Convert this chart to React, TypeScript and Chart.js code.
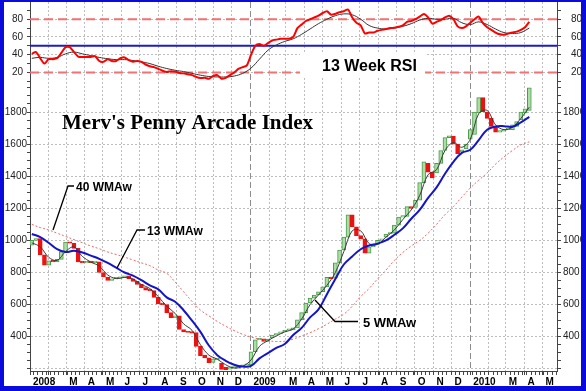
import React, { useEffect, useRef } from "react";
import { Chart, registerables } from "chart.js";

Chart.register(...registerables);

// ---------------- data ----------------
// weekly candles (open / close), first week ending Jan 4 2008
const candleOpen = [
  970, 1000, 1012, 910, 845, 872, 866, 882, 930, 990,
  982, 950, 866, 860, 866, 862, 866, 800, 772, 750,
  760, 763, 768, 780, 760, 745, 726, 706, 690, 687,
  645, 605, 600, 550, 518, 530, 445, 430, 426, 425,
  340, 285, 268, 240, 255, 236, 210, 198, 204, 205,
  215, 222, 224, 306, 380, 386, 370, 392, 410, 420,
  430, 440, 442, 455, 505, 550, 610, 640, 660, 680,
  710, 770, 765, 860, 940, 1020, 1160, 1085, 1030, 1010,
  920, 960, 975, 1000, 1020, 1040, 1045, 1095, 1145, 1150,
  1210, 1205, 1250, 1360, 1480, 1425, 1420, 1480, 1560, 1640,
  1650, 1600, 1550, 1570, 1630, 1660, 1795, 1890, 1800, 1760,
  1710, 1675, 1680, 1690, 1690, 1710, 1750, 1795, 1810,
];
const candleClose = [
  1000, 1012, 910, 845, 872, 866, 882, 930, 990, 982,
  950, 866, 860, 866, 862, 866, 800, 772, 750, 760,
  763, 768, 780, 760, 745, 726, 706, 690, 687, 645,
  605, 600, 550, 518, 530, 445, 430, 426, 422, 340,
  282, 268, 238, 262, 265, 196, 195, 204, 210, 215,
  222, 225, 306, 380, 386, 370, 385, 410, 420, 430,
  440, 442, 455, 505, 550, 610, 640, 660, 680, 710,
  770, 762, 860, 940, 1020, 1160, 1085, 1030, 1010, 920,
  960, 970, 1000, 1010, 1040, 1045, 1095, 1145, 1152, 1210,
  1200, 1250, 1360, 1490, 1425, 1390, 1480, 1560, 1640, 1652,
  1600, 1540, 1565, 1600, 1690, 1800, 1890, 1800, 1760, 1710,
  1675, 1682, 1690, 1700, 1720, 1740, 1800, 1820, 1950,
];
// weekly 13 week RSI
const rsi13 = [
  41, 43, 36, 30, 35, 35, 36, 42, 48.5, 48.5,
  43, 38, 37.5, 37.5, 37.5, 38.5, 33, 32, 35, 33,
  33, 36, 37, 34, 32, 33, 32, 29, 27, 26,
  24, 22, 20.5, 21.5, 21, 19.5, 19, 18, 17, 15,
  13.8, 14, 13, 16, 17, 13, 14, 17, 20, 24,
  26, 28, 40, 50, 52, 50, 53, 56, 57, 58,
  58, 58, 60, 70, 74, 78, 80, 82, 84, 87,
  89, 85, 86, 88, 89, 91, 82, 76, 73, 64,
  65, 65, 67, 68, 69, 70, 70.5, 71.5, 73, 77,
  78, 80, 83, 86, 82, 75, 77, 79, 82, 84,
  80, 72, 70, 72, 76, 80, 83, 75.5, 71, 68,
  65, 63, 62.5, 64, 65, 66, 68, 71, 77,
];
// values every second week (week 0, 2, 4, ...)
const rsiSignal = [
  36, 37, 36, 37, 41, 43, 41, 39, 37, 35.5,
  34.5, 34.5, 33.5, 32, 30, 27, 24.5, 22.5, 21, 19,
  17, 15.5, 15, 15, 16, 19, 25, 35, 45, 51,
  55, 58, 63, 69, 75, 80, 84, 86, 85, 80,
  73, 70, 69, 70, 72, 75, 79, 81, 80, 80,
  81, 76, 74, 77, 74, 69, 65, 64, 65, 70,
];
const wma5 = [
  985, 960, 895, 875, 930, 960, 900, 865, 840, 785,
  762, 770, 760, 725, 700, 650, 590, 545, 480, 440,
  350, 285, 260, 225, 205, 215, 255, 340, 375, 405,
  430, 448, 510, 600, 660, 720, 800, 930, 1060, 1060,
  980, 975, 1020, 1065, 1130, 1190, 1280, 1410, 1440, 1560,
  1610, 1580, 1630, 1790, 1810, 1720, 1690, 1705, 1760, 1830,
];
const wma13 = [
  1040, 1020, 985, 945, 928, 935, 925, 905, 885, 860,
  830, 800, 780, 752, 720, 695, 645, 618, 565, 500,
  430, 345, 285, 250, 225, 214, 218, 265, 298, 330,
  355, 410, 455, 520, 570, 665, 760, 850, 900, 945,
  968, 980, 1000, 1035, 1075, 1135, 1190, 1265, 1330, 1415,
  1490, 1545, 1565, 1625, 1690, 1710, 1712, 1708, 1735, 1770,
];
const wma40 = [
  1100, 1080, 1065, 1045, 1025, 1005, 985, 965, 948, 928,
  912, 896, 878, 860, 843, 815, 795, 740, 680, 620,
  566, 530, 495, 465, 438, 415, 398, 385, 375, 370,
  372, 385, 405, 425, 450, 478, 510, 540, 590, 650,
  700, 760, 815, 875, 925, 965, 1000, 1045, 1100, 1160,
  1210, 1270, 1326, 1375, 1420, 1475, 1520, 1560, 1595, 1614,
];
const rsiBands = [80, 20];
const rsiMid = 50;
// x axis: days since Jan 1 2008
const monthStartDays = [
  0, 31, 60, 91, 121, 152, 182, 213, 244, 274, 305, 335,
  366, 397, 425, 456, 486, 517, 547, 578, 609, 639, 670, 700,
  731, 762, 790, 821, 851,
];
const monthLabels = [
  "2008", "", "M", "A", "M", "J", "J", "A", "S", "O", "N", "D",
  "2009", "", "M", "A", "M", "J", "J", "A", "S", "O", "N", "D",
  "2010", "", "M", "A", "M",
];
const yearStartDays = [366, 731];
const rsiLabelValues = [20, 40, 60, 80];
const priceLabelValues = [400, 600, 800, 1000, 1200, 1400, 1600, 1800];
const priceGridValues = [200, 400, 600, 800, 1000, 1200, 1400, 1600, 1800];

const DAY_MIN = 0;
const DAY_MAX = 875;
const RSI_MIN = 3.66;
const RSI_MAX = 99.4;
const PRICE_MIN = 186.3;
const PRICE_MAX = 1955.8;

const weekDay = (i: number) => 3 + 7 * i;

const FONT = '"Liberation Sans", Arial, Helvetica, sans-serif';

function zeroPad(s: any) {
  s.paddingTop = 0;
  s.paddingBottom = 0;
  s.paddingLeft = 0;
  s.paddingRight = 0;
}

function buildXTicks() {
  const t: any[] = [];
  monthStartDays.forEach((d, k) => {
    t.push({ value: d, kind: yearStartDays.includes(d) ? "year" : "month", txt: monthLabels[k] });
  });
  for (let d = 6; d <= DAY_MAX; d += 7) {
    if (monthStartDays.some((m) => Math.abs(m - d) < 2)) continue;
    t.push({ value: d, kind: "week", txt: "" });
  }
  t.sort((a, b) => a.value - b.value);
  return t;
}

function yScale(
  pos: "left" | "right",
  stack: string,
  weight: number,
  stackWeight: number,
  min: number,
  max: number,
  step: number,
  labels: number[],
  grids: number[],
  padding: number,
  gridOn: boolean
) {
  return {
    type: "linear",
    display: true,
    position: pos,
    stack,
    weight,
    stackWeight,
    min,
    max,
    afterBuildTicks: (s: any) => {
      const t: any[] = [];
      for (let v = Math.ceil(min / step) * step; v <= max; v += step) t.push({ value: v });
      s.ticks = t;
    },
    afterFit: (s: any) => {
      s.width = pos === "left" ? 26 : 24;
      zeroPad(s);
    },
    ticks: {
      autoSkip: false,
      padding,
      color: "#222",
      font: { family: FONT, size: 10 },
      callback: (v: number) => (labels.includes(v) ? String(v) : ""),
    },
    grid: {
      drawOnChartArea: gridOn,
      drawTicks: true,
      tickLength: pos === "left" ? 3 : 4,
      tickColor: "#444",
      lineWidth: 1,
      color: (ctx: any) =>
        ctx.tick && grids.includes(ctx.tick.value) ? "#bdbdbd" : "rgba(0,0,0,0)",
    },
    border: { display: true, color: "#444", width: 1, dash: [2, 2] },
  };
}

const annotationPlugin = {
  id: "mervAnnotations",
  afterDatasetsDraw(chart: any) {
    const ctx = chart.ctx as CanvasRenderingContext2D;
    ctx.save();
    // RSI panel label
    ctx.fillStyle = "#ffffff";
    ctx.fillRect(296, 52, 125, 23);
    ctx.fillStyle = "#000";
    ctx.textBaseline = "alphabetic";
    ctx.textAlign = "left";
    ctx.font = `bold 16px ${FONT}`;
    ctx.fillText("13 Week RSI", 318, 69);
    // title
    ctx.font = 'bold 21px "Liberation Serif", "Times New Roman", serif';
    ctx.fillText("Merv's Penny Arcade Index", 58, 127);
    // leader lines
    ctx.strokeStyle = "#000";
    ctx.lineWidth = 1.3;
    const poly = (pts: number[][]) => {
      ctx.beginPath();
      ctx.moveTo(pts[0][0], pts[0][1]);
      for (let k = 1; k < pts.length; k++) ctx.lineTo(pts[k][0], pts[k][1]);
      ctx.stroke();
    };
    poly([[49, 228], [64, 184], [70, 184]]);
    poly([[113, 266], [133, 228], [141, 228]]);
    poly([[311, 298], [331, 319.5], [354, 319.5]]);
    ctx.font = `bold 12px ${FONT}`;
    ctx.fillText("40 WMAw", 72, 188.5);
    ctx.fillText("13 WMAw", 143, 232.5);
    ctx.font = `bold 13px ${FONT}`;
    ctx.fillText("5 WMAw", 359, 324.5);
    ctx.restore();
  },
};

export default function App() {
  const ref = useRef<HTMLCanvasElement | null>(null);

  useEffect(() => {
    if (!ref.current) return;
    const lineFromEven = (arr: number[]) => arr.map((v, k) => ({ x: weekDay(2 * k), y: v }));
    const candles = candleClose.map((c, i) => ({ x: weekDay(i), y: [candleOpen[i], c] }));
    const upColor = (ctx: any, up: string, down: string) => {
      const r = ctx.raw;
      if (!r) return up;
      return r.y[1] >= r.y[0] ? up : down;
    };

    const chart = new Chart(ref.current, {
      type: "line",
      data: {
        datasets: [
          {
            type: "line",
            data: lineFromEven(wma13),
            yAxisID: "priceL",
            borderColor: "#1414c8",
            borderWidth: 2,
            pointRadius: 0,
            tension: 0.4,
          },
          {
            type: "line",
            data: lineFromEven(wma5),
            yAxisID: "priceL",
            borderColor: "#3c3c3c",
            borderWidth: 1,
            pointRadius: 0,
            tension: 0.35,
          },
          {
            type: "line",
            data: lineFromEven(wma40),
            yAxisID: "priceL",
            borderColor: "#e86a6a",
            borderWidth: 1,
            borderDash: [2, 2],
            pointRadius: 0,
            tension: 0.4,
          },
          {
            type: "bar",
            data: candles as any,
            yAxisID: "priceL",
            barThickness: 4,
            minBarLength: 1.5,
            borderWidth: 1,
            borderSkipped: false,
            backgroundColor: (ctx: any) => upColor(ctx, "#a9dea4", "#ee1111"),
            borderColor: (ctx: any) => upColor(ctx, "#4a9a4a", "#ee1111"),
          },
          {
            type: "line",
            data: rsi13.map((v, i) => ({ x: weekDay(i), y: v })),
            yAxisID: "rsiL",
            borderColor: "#ff0000",
            borderWidth: 2,
            pointRadius: 0,
            tension: 0.25,
          },
          {
            type: "line",
            data: lineFromEven(rsiSignal),
            yAxisID: "rsiL",
            borderColor: "#333333",
            borderWidth: 1,
            pointRadius: 0,
            tension: 0.4,
          },
          {
            type: "line",
            data: [{ x: DAY_MIN, y: rsiMid }, { x: DAY_MAX, y: rsiMid }],
            yAxisID: "rsiL",
            borderColor: "#1c1cc4",
            borderWidth: 2,
            pointRadius: 0,
          },
          ...rsiBands.map((b) => ({
            type: "line" as const,
            data: [{ x: DAY_MIN, y: b }, { x: DAY_MAX, y: b }],
            yAxisID: "rsiL",
            borderColor: "#f07272",
            borderWidth: 2,
            borderDash: [9, 5],
            pointRadius: 0,
          })),
        ] as any,
      },
      options: {
        animation: false,
        responsive: false,
        maintainAspectRatio: false,
        layout: { padding: 0 },
        events: [],
        plugins: {
          legend: { display: false },
          title: { display: false },
          tooltip: { enabled: false },
        },
        scales: {
          x: {
            type: "linear",
            display: true,
            position: "bottom",
            min: DAY_MIN,
            max: DAY_MAX,
            offset: false,
            afterBuildTicks: (s: any) => {
              s.ticks = buildXTicks();
            },
            afterFit: (s: any) => {
              s.height = 15;
              zeroPad(s);
            },
            ticks: {
              autoSkip: false,
              maxRotation: 0,
              minRotation: 0,
              align: "start",
              labelOffset: 3,
              padding: 1,
              color: "#000",
              font: { family: FONT, size: 10, weight: "bold" },
              callback: (_v: any, i: number, ticks: any[]) => (ticks[i] && ticks[i].txt) || "",
            },
            grid: {
              offset: false,
              drawTicks: true,
              tickLength: 4,
              tickColor: "#444",
              lineWidth: 1,
              color: (ctx: any) => {
                const t = ctx.tick;
                if (!t || t.value === 0 || t.kind === "week") return "rgba(0,0,0,0)";
                return t.kind === "year" ? "#8c8c8c" : "#bdbdbd";
              },
            },
            border: {
              display: true,
              color: "#444",
              width: 1,
              dash: (ctx: any) => (ctx.tick && ctx.tick.kind === "year" ? [6, 3] : [2, 2]),
            },
          },
          priceL: yScale("left", "L", 0, 284, PRICE_MIN, PRICE_MAX, 50, priceLabelValues, priceGridValues, 0, true),
          rsiL: yScale("left", "L", 1, 85, RSI_MIN, RSI_MAX, 10, rsiLabelValues, rsiLabelValues, 4, true),
          rsiR: yScale("right", "R", 0, 85, RSI_MIN, RSI_MAX, 10, rsiLabelValues, rsiLabelValues, 10, false),
          priceR: yScale("right", "R", 1, 284, PRICE_MIN, PRICE_MAX, 50, priceLabelValues, priceGridValues, 2, false),
        } as any,
      },
      plugins: [annotationPlugin],
    });
    return () => chart.destroy();
  }, []);

  return (
    <div
      style={{
        position: "fixed",
        left: 0,
        top: 0,
        width: 586,
        height: 391,
        background: "#0a0adc",
        overflow: "hidden",
      }}
    >
      <canvas
        ref={ref}
        width={577}
        height={384}
        style={{ position: "absolute", left: 4, top: 2, width: 577, height: 384, background: "#ffffff" }}
      />
    </div>
  );
}
